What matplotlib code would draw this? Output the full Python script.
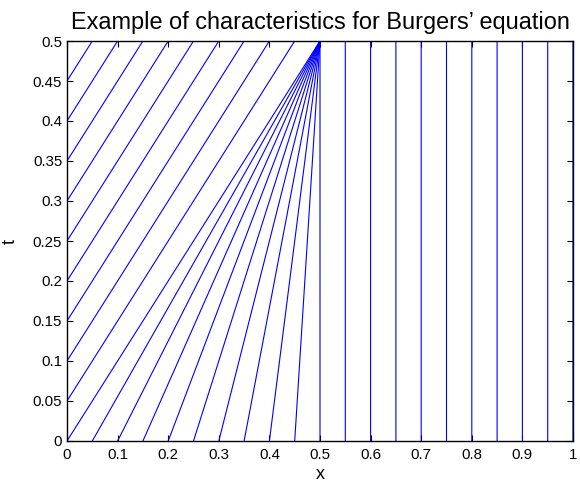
import matplotlib
matplotlib.use('Agg')
import matplotlib.pyplot as plt
import numpy as np

plt.rcParams['font.family'] = ['Liberation Sans', 'DejaVu Sans']

# starting points x0 at t=0 and characteristic speeds u0
x0_left = [-0.45, -0.4, -0.35, -0.3, -0.25, -0.2, -0.15, -0.1, -0.05]
u0_left = [1, 1, 1, 1, 1, 1, 1, 1, 1]
x0_fan = [0.0, 0.05, 0.1, 0.15, 0.2, 0.25, 0.3, 0.35, 0.4, 0.45]
u0_fan = [1.0, 0.9, 0.8, 0.7, 0.6, 0.5, 0.4, 0.3, 0.2, 0.1]
x0_right = [0.5, 0.55, 0.6, 0.65, 0.7, 0.75, 0.8, 0.85, 0.9, 0.95, 1.0]
u0_right = [0, 0, 0, 0, 0, 0, 0, 0, 0, 0, 0]

t_end = 0.5

fig = plt.figure(figsize=(5.8, 4.87), dpi=100)
ax = fig.add_axes([67 / 580, 46 / 487, 506 / 580, 400 / 487])

for xs, us in [(x0_left, u0_left), (x0_fan, u0_fan), (x0_right, u0_right)]:
    for x0, u0 in zip(xs, us):
        ax.plot([x0, x0 + u0 * t_end], [0, t_end], color='blue', lw=0.8,
                snap=False)

ax.set_xlim(0, 1)
ax.set_ylim(0, 0.5)
ax.set_xticks(np.arange(0, 1.01, 0.1))
ax.set_xticklabels(['0', '0.1', '0.2', '0.3', '0.4', '0.5', '0.6', '0.7', '0.8', '0.9', '1'])
ax.set_yticks(np.arange(0, 0.501, 0.05))
ax.set_yticklabels(['0', '0.05', '0.1', '0.15', '0.2', '0.25', '0.3', '0.35', '0.4', '0.45', '0.5'])
ax.tick_params(direction='in', top=True, right=True, labelsize=10.8, length=4)
ax.tick_params(axis='x', pad=5)
for s in ax.spines.values():
    s.set_linewidth(1)
ax.set_xlabel('x', fontsize=13, labelpad=3)
ax.set_ylabel('t', fontsize=13, labelpad=10)
ax.set_title('Example of characteristics for Burgers\u2019 equation', fontsize=16.9, pad=9)

plt.savefig('out.png', dpi=100)
